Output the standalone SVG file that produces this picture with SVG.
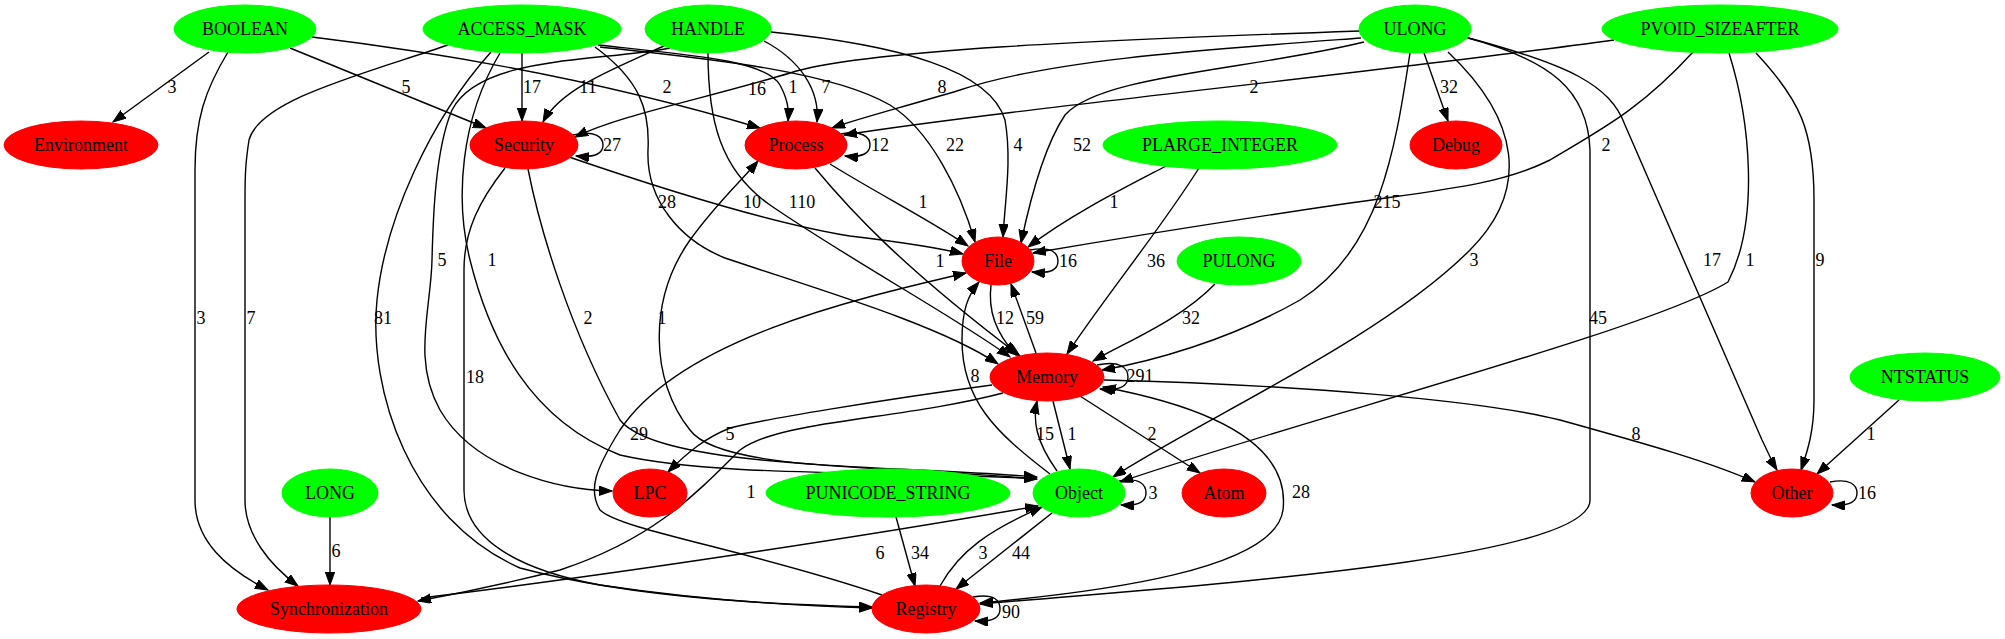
<svg xmlns="http://www.w3.org/2000/svg" width="2005" height="639" viewBox="0 0 2005 639">
<defs>
<style>
text{font-family:"Liberation Serif","Times New Roman",serif;font-size:18px;fill:#000}
.n text{text-anchor:middle}
.gr ellipse{fill:#00ff00;stroke:#00ff00}
.rd ellipse{fill:#ff0000;stroke:#ff0000}
#edges path{fill:none;stroke:#000;stroke-width:1.4;marker-end:url(#arr)}
#edges text{text-anchor:middle}
#edges path.both{marker-start:url(#arrs)}
</style>
<marker id="arr" markerUnits="userSpaceOnUse" markerWidth="14" markerHeight="10" refX="13" refY="4.7" orient="auto"><path d="M0,0 L13,4.7 L0,9.4 z" fill="#000" stroke="#000" stroke-width="1"/></marker>
<marker id="arrs" markerUnits="userSpaceOnUse" markerWidth="14" markerHeight="10" refX="13" refY="4.7" orient="auto-start-reverse"><path d="M0,0 L13,4.7 L0,9.4 z" fill="#000" stroke="#000" stroke-width="1"/></marker>
</defs>
<rect width="2005" height="639" fill="#fff"/>
<g id="edges">
<path d="M209,52 L113,122"/><text x="172" y="93">3</text>
<path d="M290,48 L486,128"/><text x="406" y="93">5</text>
<path d="M312,37 C500,60 650,95 760,128"/><text x="667" y="93">2</text>
<path d="M228,52 C205,90 195,120 195,170 L195,500 C195,540 225,568 268,590"/><text x="201" y="324">3</text>
<path d="M448,45 C360,75 260,100 249,140 C246,160 245,170 245,200 L245,500 C245,535 270,565 298,586"/><text x="251" y="324">7</text>
<path d="M522,53 L522,121"/><text x="532" y="93">17</text>
<path d="M491,52 C430,120 385,220 377,300 C368,390 410,520 520,568 C640,600 790,605 872,607"/><text x="383" y="324">81</text>
<path d="M500,53 C460,120 455,200 470,260 C490,340 530,420 620,455 C720,478 900,470 1037,479"/><text x="492" y="266">1</text>
<path d="M598,45 C690,55 765,60 780,85 C788,100 789,110 788,121"/><text x="793" y="93">1</text>
<path d="M600,47 C700,58 830,70 890,105 C930,130 960,190 975,242"/><text x="955" y="151">22</text>
<path d="M595,47 C640,80 650,110 648,150 C646,200 680,240 725,258 C820,290 940,325 998,364"/><text x="667" y="208">28</text>
<path d="M664,46 C610,70 560,90 543,122"/><text x="588" y="93">11</text>
<path d="M670,48 C600,62 480,55 452,110 C435,150 433,220 432,260 C431,310 412,360 440,410 C475,470 560,490 612,491"/><text x="442" y="266">5</text>
<path d="M764,41 C800,60 820,90 817,122"/><text x="826" y="93">7</text>
<path d="M771,32 C900,45 990,70 1005,120 C1012,160 1005,200 1003,237"/><text x="1018" y="151">4</text>
<path d="M708,53 C708,120 720,170 770,205 C850,260 960,320 1010,357"/><text x="802" y="208">110</text>
<path d="M1360,31 C1100,40 860,50 790,73 C700,100 620,115 575,137"/><text x="757" y="95">16</text>
<path d="M1361,38 C1200,50 1050,60 960,90 C900,108 860,118 832,128"/><text x="942" y="93">8</text>
<path d="M1364,42 C1250,70 1100,75 1065,115 C1045,145 1030,200 1021,243"/><text x="1082" y="151">52</text>
<path d="M1424,53 L1448,121"/><text x="1449" y="93">32</text>
<path d="M1410,53 C1395,150 1380,250 1300,300 C1230,340 1150,362 1102,370"/><text x="1387" y="208">215</text>
<path d="M1448,52 C1520,120 1530,190 1470,250 C1380,340 1200,420 1113,477"/><text x="1474" y="266">3</text>
<path d="M1468,38 C1550,60 1588,90 1590,150 L1590,500 C1590,560 1200,585 980,604"/><text x="1598" y="324">45</text>
<path d="M1465,37 C1570,65 1610,85 1625,125 L1762,440 C1768,452 1772,462 1777,470"/><text x="1712" y="266">17</text>
<path d="M1614,40 C1400,70 1000,110 844,135"/><text x="1254" y="93">2</text>
<path d="M1693,52 C1640,110 1600,130 1550,160 C1500,185 1440,190 1350,203 C1200,225 1080,245 1033,253"/><text x="1606" y="151">2</text>
<path d="M1729,53 C1750,120 1760,220 1728,282 C1650,330 1300,420 1120,482"/><text x="1750" y="266">1</text>
<path d="M1756,53 C1800,100 1814,130 1814,200 L1814,400 C1814,430 1808,450 1801,470"/><text x="1820" y="266">9</text>
<path d="M1166,166 C1120,190 1070,215 1028,247"/><text x="1114" y="208">1</text>
<path d="M1199,168 C1160,230 1110,290 1067,354"/><text x="1156" y="267">36</text>
<path d="M1215,284 C1180,320 1130,340 1093,361"/><text x="1191" y="324">32</text>
<path d="M573,135 C595,130 603,137 603,145 C603,153 596,158 576,156"/><text x="612" y="151">27</text>
<path d="M569,157 C680,195 780,225 850,236 C900,242 940,248 963,254"/><text x="752" y="208">10</text>
<path d="M528,169 C540,230 570,330 620,420 C660,470 900,465 1037,477"/><text x="588" y="324">2</text>
<path d="M505,168 C480,200 464,230 464,270 L464,490 C464,540 520,570 600,585 C700,600 800,606 872,608"/><text x="475" y="383">18</text>
<path d="M841,134 C862,130 870,137 870,145 C870,153 862,158 845,156"/><text x="880" y="151">12</text>
<path d="M830,164 C880,195 930,220 968,246"/><text x="923" y="208">1</text>
<path d="M815,168 C850,210 900,265 1020,356"/><text x="940" y="267">1</text>
<path d="M1030,250 C1052,246 1058,253 1058,261 C1058,269 1052,274 1032,272"/><text x="1068" y="267">16</text>
<path d="M991,285 C988,310 995,332 1016,355"/><text x="1005" y="324">12</text>
<path d="M1036,353 L1011,284"/><text x="1035" y="324">59</text>
<path d="M1097,365 C1120,360 1128,368 1128,377 C1128,386 1120,391 1100,389"/><text x="1140" y="382">291</text>
<path d="M992,385 C880,400 760,420 730,428 C705,438 688,452 668,472"/><text x="730" y="440">5</text>
<path d="M1003,393 C900,420 780,420 740,450 C690,500 650,540 560,570 C500,585 450,595 418,601"/><text x="751" y="498">1</text>
<path d="M1053,401 L1070,469"/><text x="1072" y="440">1</text>
<path d="M1080,396 L1200,473"/><text x="1152" y="440">2</text>
<path d="M1104,380 C1300,385 1480,400 1560,420 C1650,445 1710,462 1755,482"/><text x="1636" y="440">8</text>
<path class="both" d="M1103,387 C1225,410 1290,450 1283,510 C1275,570 1100,592 980,603"/><text x="1301" y="498">28</text>
<path d="M1119,481 C1140,477 1146,485 1146,493 C1146,501 1140,506 1121,505"/><text x="1153" y="499">3</text>
<path d="M1057,471 C1035,440 1033,420 1037,401"/><text x="1045" y="440">15</text>
<path d="M1050,474 C995,432 962,400 962,340 C962,310 968,295 979,282"/><text x="975" y="382">8</text>
<path d="M1036,479 C900,466 720,472 690,430 C650,380 648,300 690,240 C715,205 740,182 758,161"/><text x="662" y="324">1</text>
<path d="M1052,513 L956,589"/><text x="1021" y="559">44</text>
<path d="M940,586 C960,550 990,530 1042,507"/><text x="983" y="559">3</text>
<path d="M421,598 C650,570 900,530 1038,506"/><text x="880" y="559">6</text>
<path d="M896,517 L915,586"/><text x="920" y="559">34</text>
<path d="M882,595 C750,550 620,530 600,510 C588,490 595,470 620,430 C680,340 850,300 966,273"/><text x="639" y="440">29</text>
<path d="M973,597 C995,593 1000,601 1000,609 C1000,617 994,622 975,621"/><text x="1011" y="618">90</text>
<path d="M330,517 L330,585"/><text x="336" y="557">6</text>
<path d="M1899,400 L1817,474"/><text x="1871" y="440">1</text>
<path d="M1830,482 C1850,478 1857,485 1857,493 C1857,501 1851,506 1832,505"/><text x="1867" y="499">16</text>
</g>
<g id="BOOLEAN" class="n gr"><ellipse cx="245" cy="29" rx="71" ry="24"/><text x="245" y="35">BOOLEAN</text></g>
<g id="ACCESS_MASK" class="n gr"><ellipse cx="522" cy="29" rx="99" ry="24"/><text x="522" y="35">ACCESS_MASK</text></g>
<g id="HANDLE" class="n gr"><ellipse cx="708" cy="29" rx="63" ry="24"/><text x="708" y="35">HANDLE</text></g>
<g id="ULONG" class="n gr"><ellipse cx="1415" cy="29" rx="56" ry="24"/><text x="1415" y="35">ULONG</text></g>
<g id="PVOID_SIZEAFTER" class="n gr"><ellipse cx="1720" cy="29" rx="118" ry="24"/><text x="1720" y="35">PVOID_SIZEAFTER</text></g>
<g id="Environment" class="n rd"><ellipse cx="81" cy="145" rx="77" ry="24"/><text x="81" y="151">Environment</text></g>
<g id="Security" class="n rd"><ellipse cx="524" cy="145" rx="54" ry="24"/><text x="524" y="151">Security</text></g>
<g id="Process" class="n rd"><ellipse cx="796" cy="145" rx="51" ry="24"/><text x="796" y="151">Process</text></g>
<g id="PLARGE_INTEGER" class="n gr"><ellipse cx="1220" cy="145" rx="117" ry="24"/><text x="1220" y="151">PLARGE_INTEGER</text></g>
<g id="Debug" class="n rd"><ellipse cx="1456" cy="145" rx="46" ry="24"/><text x="1456" y="151">Debug</text></g>
<g id="File" class="n rd"><ellipse cx="998" cy="261" rx="36" ry="24"/><text x="998" y="267">File</text></g>
<g id="PULONG" class="n gr"><ellipse cx="1239" cy="261" rx="62" ry="24"/><text x="1239" y="267">PULONG</text></g>
<g id="Memory" class="n rd"><ellipse cx="1047" cy="377" rx="57" ry="24"/><text x="1047" y="383">Memory</text></g>
<g id="NTSTATUS" class="n gr"><ellipse cx="1925" cy="377" rx="75" ry="24"/><text x="1925" y="383">NTSTATUS</text></g>
<g id="LONG" class="n gr"><ellipse cx="330" cy="493" rx="48" ry="24"/><text x="330" y="499">LONG</text></g>
<g id="LPC" class="n rd"><ellipse cx="650" cy="493" rx="37" ry="24"/><text x="650" y="499">LPC</text></g>
<g id="PUNICODE_STRING" class="n gr"><ellipse cx="888" cy="493" rx="122" ry="24"/><text x="888" y="499">PUNICODE_STRING</text></g>
<g id="Object" class="n gr"><ellipse cx="1079" cy="493" rx="46" ry="24"/><text x="1079" y="499">Object</text></g>
<g id="Atom" class="n rd"><ellipse cx="1224" cy="493" rx="42" ry="24"/><text x="1224" y="499">Atom</text></g>
<g id="Other" class="n rd"><ellipse cx="1792" cy="493" rx="41" ry="24"/><text x="1792" y="499">Other</text></g>
<g id="Synchronization" class="n rd"><ellipse cx="329" cy="609" rx="92" ry="24"/><text x="329" y="615">Synchronization</text></g>
<g id="Registry" class="n rd"><ellipse cx="926" cy="609" rx="54" ry="24"/><text x="926" y="615">Registry</text></g>
</svg>
